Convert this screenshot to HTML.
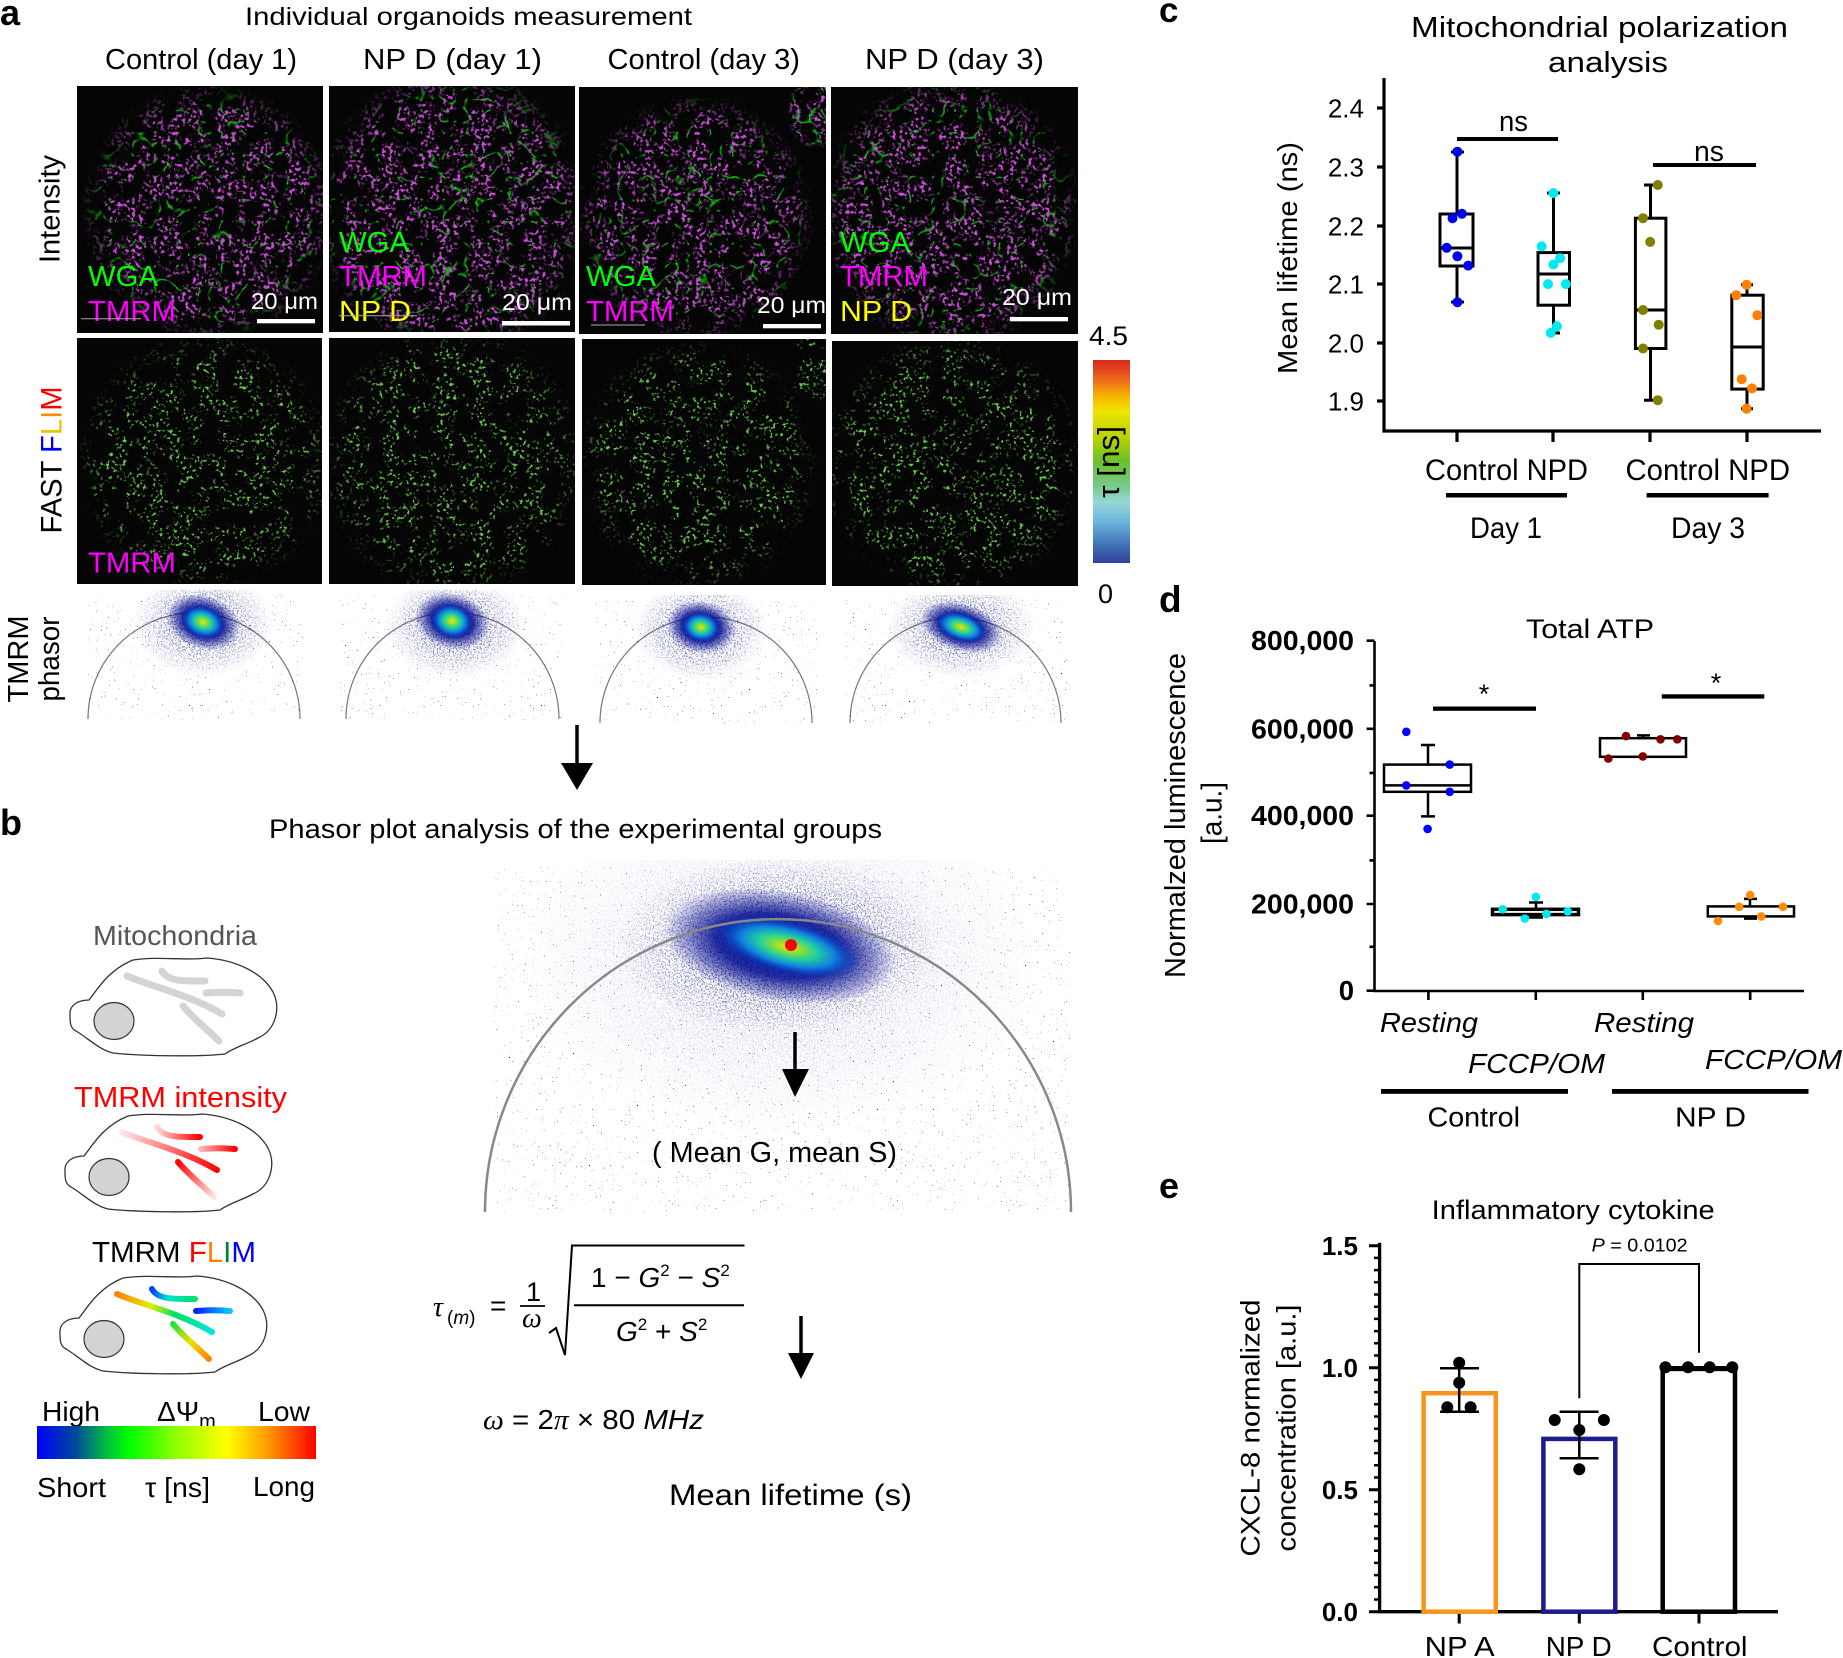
<!DOCTYPE html>
<html><head><meta charset="utf-8">
<style>
html,body{margin:0;padding:0;background:#fff;}
svg{display:block;}
text{font-family:"Liberation Sans",Arial,sans-serif;}
.b{font-weight:bold}
.it{font-style:italic}
.sf{font-family:"Liberation Serif","Times New Roman",serif;font-style:italic}
</style></head><body>
<svg width="1843" height="1658" viewBox="0 0 1843 1658" xmlns="http://www.w3.org/2000/svg">
<defs>
 <filter id="fInt" x="0" y="0" width="1" height="1" color-interpolation-filters="sRGB">
  <feTurbulence type="fractalNoise" baseFrequency="0.055" numOctaves="2" seed="17" result="cm"/>
  <feColorMatrix in="cm" type="matrix" values="0 0 0 0 0  0 0 0 0 0  0 0 0 0 0  8 0 0 0 -3.4" result="cmask"/>
  <feTurbulence type="fractalNoise" baseFrequency="0.28" numOctaves="2" seed="3" result="n1"/>
  <feColorMatrix in="n1" type="matrix" values="0 0 0 0 0.8  0 0 0 0 0.3  0 0 0 0 0.85  7 0 0 0 -3.65" result="mag0"/>
  <feComposite in="mag0" in2="cmask" operator="in" result="mag"/>
  <feTurbulence type="turbulence" baseFrequency="0.045" numOctaves="2" seed="11" result="n2"/>
  <feColorMatrix in="n2" type="matrix" values="0 0 0 0 0.1  0 0 0 0 0.75  0 0 0 0 0.1  -13 0 0 0 1.1" result="grn"/>
  <feMerge><feMergeNode in="grn"/><feMergeNode in="mag"/></feMerge>
 </filter>
 <filter id="fFl" x="0" y="0" width="1" height="1" color-interpolation-filters="sRGB">
  <feTurbulence type="fractalNoise" baseFrequency="0.055" numOctaves="2" seed="17" result="cm"/>
  <feColorMatrix in="cm" type="matrix" values="0 0 0 0 0  0 0 0 0 0  0 0 0 0 0  8 0 0 0 -3.4" result="cmask"/>
  <feTurbulence type="fractalNoise" baseFrequency="0.3" numOctaves="2" seed="7" result="n1"/>
  <feColorMatrix in="n1" type="matrix" values="0 0 0 0 0.4  0 0 0 0 0.8  0 0 0 0 0.3  9 0 0 0 -5.2" result="g0"/>
  <feComposite in="g0" in2="cmask" operator="in"/>
 </filter>
 <filter id="fSpS" x="0" y="0" width="1" height="1" color-interpolation-filters="sRGB">
  <feTurbulence type="fractalNoise" baseFrequency="0.75" numOctaves="1" seed="21"/>
  <feColorMatrix type="matrix" values="0 0 0 0 0.05  0 0 0 0 0.05  0 0 0 0 0.5  30 0 0 0 -21.9"/>
 </filter>
 <filter id="fSpD" x="0" y="0" width="1" height="1" color-interpolation-filters="sRGB">
  <feTurbulence type="fractalNoise" baseFrequency="0.75" numOctaves="1" seed="4"/>
  <feColorMatrix type="matrix" values="0 0 0 0 0.02  0 0 0 0 0.04  0 0 0 0 0.5  12 0 0 0 -6.3"/>
 </filter>
 <radialGradient id="soft"><stop offset="0" stop-color="#fff"/><stop offset="0.78" stop-color="#fff"/><stop offset="1" stop-color="#000"/></radialGradient>
 <radialGradient id="fade"><stop offset="0" stop-color="#fff"/><stop offset="0.45" stop-color="#999"/><stop offset="1" stop-color="#000"/></radialGradient>
 <radialGradient id="fadeL"><stop offset="0" stop-color="#555"/><stop offset="0.5" stop-color="#2a2a2a"/><stop offset="1" stop-color="#000"/></radialGradient>
 <radialGradient id="halo"><stop offset="0" stop-color="#0018a8"/><stop offset="0.55" stop-color="#000c90" stop-opacity="0.85"/><stop offset="1" stop-color="#000080" stop-opacity="0"/></radialGradient>
 <radialGradient id="core"><stop offset="0" stop-color="#f0e020"/><stop offset="0.18" stop-color="#90e030"/><stop offset="0.4" stop-color="#20d0a0"/><stop offset="0.65" stop-color="#1080e0"/><stop offset="1" stop-color="#0030c0" stop-opacity="0"/></radialGradient>
 <linearGradient id="cbar" x1="0" y1="0" x2="0" y2="1">
  <stop offset="0" stop-color="#d8281c"/><stop offset="0.1" stop-color="#ee6a1e"/><stop offset="0.18" stop-color="#f7b500"/><stop offset="0.25" stop-color="#f0e400"/><stop offset="0.38" stop-color="#b8d400"/><stop offset="0.5" stop-color="#6abf2a"/><stop offset="0.62" stop-color="#78c98a"/><stop offset="0.7" stop-color="#95d8d8"/><stop offset="0.8" stop-color="#6ab4dc"/><stop offset="0.92" stop-color="#3c6cb4"/><stop offset="1" stop-color="#34409c"/>
 </linearGradient>
 <linearGradient id="dpsi" x1="0" y1="0" x2="1" y2="0">
  <stop offset="0" stop-color="#0000ff"/><stop offset="0.14" stop-color="#004a9a"/><stop offset="0.25" stop-color="#00c040"/><stop offset="0.33" stop-color="#00ff00"/><stop offset="0.5" stop-color="#90ff00"/><stop offset="0.68" stop-color="#ffff00"/><stop offset="0.82" stop-color="#ffa000"/><stop offset="1" stop-color="#ff0000"/>
 </linearGradient>
 <linearGradient id="r2a" gradientUnits="userSpaceOnUse" x1="122" y1="1132" x2="217" y2="1170"><stop offset="0" stop-color="#ff0000" stop-opacity="0.1"/><stop offset="1" stop-color="#ff0000"/></linearGradient>
 <linearGradient id="r2b" gradientUnits="userSpaceOnUse" x1="157" y1="1130" x2="200" y2="1137"><stop offset="0" stop-color="#ff0000" stop-opacity="0.15"/><stop offset="1" stop-color="#ff0000"/></linearGradient>
 <linearGradient id="r2c" gradientUnits="userSpaceOnUse" x1="201" y1="1149" x2="235" y2="1149"><stop offset="0" stop-color="#ff0000" stop-opacity="0.3"/><stop offset="1" stop-color="#ff0000"/></linearGradient>
 <linearGradient id="r2d" gradientUnits="userSpaceOnUse" x1="178" y1="1162" x2="214" y2="1197"><stop offset="0" stop-color="#ff0000"/><stop offset="1" stop-color="#ff0000" stop-opacity="0.1"/></linearGradient>
 <linearGradient id="r3a" gradientUnits="userSpaceOnUse" x1="117" y1="1294" x2="212" y2="1332"><stop offset="0" stop-color="#ff8000"/><stop offset="0.35" stop-color="#e0f000"/><stop offset="0.6" stop-color="#00e060"/><stop offset="1" stop-color="#00e8e0"/></linearGradient>
 <linearGradient id="r3b" gradientUnits="userSpaceOnUse" x1="152" y1="1289" x2="195" y2="1299"><stop offset="0" stop-color="#0040ff"/><stop offset="0.4" stop-color="#00e0d0"/><stop offset="1" stop-color="#00e070"/></linearGradient>
 <linearGradient id="r3c" gradientUnits="userSpaceOnUse" x1="196" y1="1311" x2="230" y2="1311"><stop offset="0" stop-color="#0020ff"/><stop offset="1" stop-color="#00c8ff"/></linearGradient>
 <linearGradient id="r3d" gradientUnits="userSpaceOnUse" x1="173" y1="1324" x2="209" y2="1359"><stop offset="0" stop-color="#20e040"/><stop offset="0.5" stop-color="#f0e000"/><stop offset="1" stop-color="#ff8000"/></linearGradient>
 <g id="cell">
  <path d="M70 1015 C69 1004 80 1000 89 1000 C97 990 108 970 133 960 C160 956 185 961 207 958 C235 960 262 972 273 992 C281 1008 276 1030 258 1038 C245 1045 235 1047 225 1054 C200 1057 140 1056 113 1053 C98 1049 88 1038 76 1031 C70 1028 70 1022 70 1015 Z" fill="#fff" stroke="#333" stroke-width="1.3"/>
  <ellipse cx="114" cy="1021" rx="20" ry="18.5" fill="#d3d3d3" stroke="#333" stroke-width="1.2"/>
 </g>
 <mask id="mI1" maskUnits="userSpaceOnUse" x="0" y="0" width="1843" height="1658"><ellipse cx="208" cy="212" rx="128" ry="130" fill="url(#soft)"/></mask>
 <mask id="mI2" maskUnits="userSpaceOnUse" x="0" y="0" width="1843" height="1658"><ellipse cx="452" cy="212" rx="140" ry="145" fill="url(#soft)"/></mask>
 <mask id="mI3" maskUnits="userSpaceOnUse" x="0" y="0" width="1843" height="1658"><ellipse cx="695" cy="218" rx="120" ry="124" fill="url(#soft)"/><ellipse cx="815" cy="112" rx="28" ry="38" fill="url(#soft)"/></mask>
 <mask id="mI4" maskUnits="userSpaceOnUse" x="0" y="0" width="1843" height="1658"><ellipse cx="950" cy="212" rx="132" ry="138" fill="url(#soft)"/></mask>
 <mask id="mF1" maskUnits="userSpaceOnUse" x="0" y="0" width="1843" height="1658"><ellipse cx="205" cy="462" rx="128" ry="130" fill="url(#soft)"/></mask>
 <mask id="mF2" maskUnits="userSpaceOnUse" x="0" y="0" width="1843" height="1658"><ellipse cx="452" cy="462" rx="132" ry="136" fill="url(#soft)"/></mask>
 <mask id="mF3" maskUnits="userSpaceOnUse" x="0" y="0" width="1843" height="1658"><ellipse cx="698" cy="465" rx="120" ry="126" fill="url(#soft)"/><ellipse cx="815" cy="365" rx="28" ry="38" fill="url(#soft)"/></mask>
 <mask id="mF4" maskUnits="userSpaceOnUse" x="0" y="0" width="1843" height="1658"><ellipse cx="952" cy="465" rx="132" ry="132" fill="url(#soft)"/></mask>
 <mask id="mP1" maskUnits="userSpaceOnUse" x="0" y="0" width="1843" height="1658"><ellipse cx="203" cy="624" rx="70" ry="52" fill="url(#fade)"/></mask>
 <mask id="mP2" maskUnits="userSpaceOnUse" x="0" y="0" width="1843" height="1658"><ellipse cx="455" cy="626" rx="70" ry="52" fill="url(#fade)"/></mask>
 <mask id="mP3" maskUnits="userSpaceOnUse" x="0" y="0" width="1843" height="1658"><ellipse cx="701" cy="630" rx="66" ry="50" fill="url(#fade)"/></mask>
 <mask id="mP4" maskUnits="userSpaceOnUse" x="0" y="0" width="1843" height="1658"><ellipse cx="961" cy="628" rx="74" ry="50" fill="url(#fade)"/></mask>
 <mask id="mB1" maskUnits="userSpaceOnUse" x="0" y="0" width="1843" height="1658"><ellipse cx="778" cy="946" rx="160" ry="88" fill="url(#fade)"/></mask>
 <mask id="mB2" maskUnits="userSpaceOnUse" x="0" y="0" width="1843" height="1658"><ellipse cx="780" cy="960" rx="260" ry="170" fill="url(#fadeL)"/></mask>
</defs>
<rect width="1843" height="1658" fill="#fff"/>

<!-- ============ PANEL A ============ -->
<text x="0" y="25" class="b" font-size="36">a</text>
<text x="245" y="25" font-size="25" textLength="447" lengthAdjust="spacingAndGlyphs">Individual organoids measurement</text>
<text x="105" y="69" font-size="29" textLength="192" lengthAdjust="spacingAndGlyphs">Control (day 1)</text>
<text x="363" y="69" font-size="29" textLength="179" lengthAdjust="spacingAndGlyphs">NP D (day 1)</text>
<text x="607.5" y="69" font-size="29" textLength="192.5" lengthAdjust="spacingAndGlyphs">Control (day 3)</text>
<text x="865" y="69" font-size="29" textLength="179" lengthAdjust="spacingAndGlyphs">NP D (day 3)</text>

<text transform="translate(59.5,209) rotate(-90)" text-anchor="middle" font-size="29" textLength="108" lengthAdjust="spacingAndGlyphs">Intensity</text>
<text transform="translate(61.5,460) rotate(-90)" text-anchor="middle" font-size="30" textLength="147" lengthAdjust="spacingAndGlyphs">FAST <tspan fill="#0000ff">F</tspan><tspan fill="#e6c800">L</tspan><tspan fill="#ff8c00">I</tspan><tspan fill="#ff0000">M</tspan></text>
<text transform="translate(28,659) rotate(-90)" text-anchor="middle" font-size="29" textLength="87" lengthAdjust="spacingAndGlyphs">TMRM</text>
<text transform="translate(59,659) rotate(-90)" text-anchor="middle" font-size="29" textLength="85" lengthAdjust="spacingAndGlyphs">phasor</text>

<!-- intensity images -->
<rect x="77" y="86" width="246" height="247" fill="#050505"/>
<g mask="url(#mI1)"><rect x="77" y="86" width="246" height="247" fill="#000" filter="url(#fInt)"/></g>
<rect x="329" y="86" width="246" height="246" fill="#050505"/>
<g mask="url(#mI2)"><rect x="329" y="86" width="246" height="246" fill="#000" filter="url(#fInt)"/></g>
<rect x="579" y="87" width="247" height="247" fill="#050505"/>
<g mask="url(#mI3)"><rect x="579" y="87" width="247" height="247" fill="#000" filter="url(#fInt)"/></g>
<rect x="831" y="87" width="247" height="247" fill="#050505"/>
<g mask="url(#mI4)"><rect x="831" y="87" width="247" height="247" fill="#000" filter="url(#fInt)"/></g>

<!-- FLIM images -->
<rect x="77" y="338" width="245" height="246" fill="#050505"/>
<g mask="url(#mF1)"><rect x="77" y="338" width="245" height="246" fill="#000" filter="url(#fFl)"/></g>
<rect x="329" y="338" width="246" height="246" fill="#050505"/>
<g mask="url(#mF2)"><rect x="329" y="338" width="246" height="246" fill="#000" filter="url(#fFl)"/></g>
<rect x="582" y="339" width="244" height="246" fill="#050505"/>
<g mask="url(#mF3)"><rect x="582" y="339" width="244" height="246" fill="#000" filter="url(#fFl)"/></g>
<rect x="832" y="341" width="246" height="245" fill="#050505"/>
<g mask="url(#mF4)"><rect x="832" y="341" width="246" height="245" fill="#000" filter="url(#fFl)"/></g>

<!-- image labels -->
<g font-size="29">
 <text x="88" y="286" fill="#00ff00" textLength="70" lengthAdjust="spacingAndGlyphs">WGA</text>
 <text x="88" y="321" fill="#ff00ff" textLength="88" lengthAdjust="spacingAndGlyphs">TMRM</text>
 <text x="339" y="252" fill="#00ff00" textLength="70" lengthAdjust="spacingAndGlyphs">WGA</text>
 <text x="339" y="286" fill="#ff00ff" textLength="88" lengthAdjust="spacingAndGlyphs">TMRM</text>
 <text x="339" y="321" fill="#ffff00" textLength="72" lengthAdjust="spacingAndGlyphs">NP D</text>
 <text x="586" y="286" fill="#00ff00" textLength="70" lengthAdjust="spacingAndGlyphs">WGA</text>
 <text x="586" y="321" fill="#ff00ff" textLength="88" lengthAdjust="spacingAndGlyphs">TMRM</text>
 <text x="840" y="252" fill="#00ff00" textLength="70" lengthAdjust="spacingAndGlyphs">WGA</text>
 <text x="840" y="286" fill="#ff00ff" textLength="88" lengthAdjust="spacingAndGlyphs">TMRM</text>
 <text x="840" y="321" fill="#ffff00" textLength="72" lengthAdjust="spacingAndGlyphs">NP D</text>
 <text x="88" y="572.5" fill="#ff00ff" textLength="88" lengthAdjust="spacingAndGlyphs">TMRM</text>
</g>
<g stroke="#aaa" stroke-width="1">
 <line x1="81" y1="318.7" x2="141" y2="318.7"/>
 <line x1="339" y1="315.7" x2="417" y2="315.7"/>
 <line x1="591" y1="325" x2="645" y2="325"/>
</g>
<g fill="#fff" font-size="23">
 <text x="251" y="309" textLength="67" lengthAdjust="spacingAndGlyphs">20 μm</text>
 <rect x="257" y="319" width="58" height="4.3"/>
 <text x="502" y="310" textLength="70" lengthAdjust="spacingAndGlyphs">20 μm</text>
 <rect x="502" y="321" width="68" height="4.5"/>
 <text x="757" y="313" textLength="69" lengthAdjust="spacingAndGlyphs">20 μm</text>
 <rect x="763" y="324" width="58" height="4.3"/>
 <text x="1002" y="305" textLength="70" lengthAdjust="spacingAndGlyphs">20 μm</text>
 <rect x="1010" y="317" width="58" height="4.3"/>
</g>

<!-- colorbar -->
<rect x="1093" y="360" width="37" height="203" fill="url(#cbar)"/>
<text x="1089" y="345" font-size="27" textLength="39" lengthAdjust="spacingAndGlyphs">4.5</text>
<text x="1098" y="603" font-size="27">0</text>
<text transform="translate(1119,462) rotate(-90)" text-anchor="middle" font-size="31" textLength="72" lengthAdjust="spacingAndGlyphs">τ [ns]</text>

<!-- small phasors -->
<g fill="none" stroke="#777" stroke-width="1.2">
 <path d="M88 719 A106 106 0 0 1 300 719"/>
 <path d="M346 719 A106.5 106.5 0 0 1 559 719"/>
 <path d="M600 723 A106 106 0 0 1 812 723"/>
 <path d="M850 723 A105.5 105.5 0 0 1 1061 723"/>
</g>
<rect x="88" y="595" width="215" height="125" fill="#000" filter="url(#fSpS)"/>
<rect x="340" y="595" width="222" height="125" fill="#000" filter="url(#fSpS)"/>
<rect x="596" y="598" width="222" height="126" fill="#000" filter="url(#fSpS)"/>
<rect x="846" y="598" width="222" height="126" fill="#000" filter="url(#fSpS)"/>
<g mask="url(#mP1)"><rect x="120" y="590" width="170" height="100" fill="#000" filter="url(#fSpD)"/></g>
<g mask="url(#mP2)"><rect x="370" y="590" width="170" height="100" fill="#000" filter="url(#fSpD)"/></g>
<g mask="url(#mP3)"><rect x="620" y="595" width="165" height="100" fill="#000" filter="url(#fSpD)"/></g>
<g mask="url(#mP4)"><rect x="875" y="595" width="175" height="100" fill="#000" filter="url(#fSpD)"/></g>
<g transform="translate(203,622) rotate(20)"><ellipse rx="38" ry="27" fill="url(#halo)"/><ellipse rx="22" ry="16" fill="url(#core)"/></g>
<g transform="translate(452,621) rotate(15)"><ellipse rx="38" ry="28" fill="url(#halo)"/><ellipse rx="21" ry="17" fill="url(#core)"/></g>
<g transform="translate(701,627) rotate(10)"><ellipse rx="35" ry="26" fill="url(#halo)"/><ellipse rx="19" ry="15" fill="url(#core)"/></g>
<g transform="translate(961,627) rotate(18)"><ellipse rx="42" ry="24" fill="url(#halo)"/><ellipse rx="26" ry="14" fill="url(#core)"/></g>

<!-- arrow a->b -->
<line x1="577" y1="725" x2="577" y2="766" stroke="#000" stroke-width="3.5"/>
<polygon points="561,763 593,763 577,790" fill="#000"/>

<!-- ============ PANEL B ============ -->
<text x="0" y="835" class="b" font-size="36">b</text>
<text x="269" y="838" font-size="27" textLength="613" lengthAdjust="spacingAndGlyphs">Phasor plot analysis of the experimental groups</text>

<text x="93" y="945" font-size="28" fill="#555" textLength="164" lengthAdjust="spacingAndGlyphs">Mitochondria</text>
<use href="#cell"/>
<g fill="none" stroke="#d4d4d4" stroke-width="7" stroke-linecap="round">
 <path d="M127 976 C150 986 190 995 222 1014"/>
 <path d="M162 971 C168 982 185 981 205 981"/>
 <path d="M206 993 C217 992 230 992 240 993"/>
 <path d="M183 1006 C195 1020 208 1030 219 1041"/>
</g>
<text x="74" y="1107" font-size="29" fill="#ff0000" textLength="213" lengthAdjust="spacingAndGlyphs">TMRM intensity</text>
<use href="#cell" transform="translate(-5,156)"/>
<g fill="none" stroke-width="6" stroke-linecap="round">
 <path d="M122 1132 C145 1142 185 1151 217 1170" stroke="url(#r2a)"/>
 <path d="M157 1127 C163 1138 180 1137 200 1137" stroke="url(#r2b)"/>
 <path d="M201 1149 C212 1148 225 1148 235 1149" stroke="url(#r2c)"/>
 <path d="M178 1162 C190 1176 203 1186 214 1197" stroke="url(#r2d)"/>
</g>
<text x="92" y="1262" font-size="29" textLength="164" lengthAdjust="spacingAndGlyphs">TMRM <tspan fill="#ff0000">F</tspan><tspan fill="#ff7f00">L</tspan><tspan fill="#008040">I</tspan><tspan fill="#0000ff">M</tspan></text>
<use href="#cell" transform="translate(-10,318)"/>
<g fill="none" stroke-width="6" stroke-linecap="round">
 <path d="M117 1294 C140 1304 180 1313 212 1332" stroke="url(#r3a)"/>
 <path d="M152 1289 C158 1300 175 1299 195 1299" stroke="url(#r3b)"/>
 <path d="M196 1311 C207 1310 220 1310 230 1311" stroke="url(#r3c)"/>
 <path d="M173 1324 C185 1338 198 1348 209 1359" stroke="url(#r3d)"/>
</g>
<text x="42" y="1421" font-size="28" textLength="58" lengthAdjust="spacingAndGlyphs">High</text>
<text x="157" y="1421" font-size="28" font-family="Liberation Serif, serif">ΔΨ<tspan font-size="20" dy="7" font-family="Liberation Sans, sans-serif">m</tspan></text>
<text x="258" y="1421" font-size="28" textLength="52" lengthAdjust="spacingAndGlyphs">Low</text>
<rect x="37" y="1426" width="279" height="33" fill="url(#dpsi)"/>
<text x="37" y="1497" font-size="28" textLength="69" lengthAdjust="spacingAndGlyphs">Short</text>
<text x="145" y="1497" font-size="28" textLength="65" lengthAdjust="spacingAndGlyphs">τ [ns]</text>
<text x="253" y="1496" font-size="28" textLength="62" lengthAdjust="spacingAndGlyphs">Long</text>

<!-- big phasor -->
<rect x="494" y="867" width="576" height="345" fill="#000" filter="url(#fSpS)"/>
<g mask="url(#mB2)"><rect x="520" y="860" width="520" height="300" fill="#000" filter="url(#fSpD)"/></g>
<g mask="url(#mB1)"><rect x="615" y="860" width="330" height="175" fill="#000" filter="url(#fSpD)"/></g>
<g transform="translate(780,946) rotate(10)"><ellipse rx="118" ry="56" fill="url(#halo)"/></g>
<g transform="translate(788,947) rotate(14)"><ellipse rx="74" ry="27" fill="url(#core)"/></g>
<path d="M485 1212 A293 293 0 0 1 1071 1212" fill="none" stroke="#888" stroke-width="2.5"/>
<circle cx="791" cy="945" r="6" fill="#ff0000"/>
<line x1="795" y1="1032" x2="795" y2="1072" stroke="#000" stroke-width="3.5"/>
<polygon points="782,1069 809,1069 795,1097" fill="#000"/>
<text x="652" y="1162" font-size="29" textLength="245" lengthAdjust="spacingAndGlyphs">( Mean G, mean S)</text>

<!-- formula -->
<text x="433" y="1316" font-size="28" class="sf">τ</text>
<text x="447" y="1324" font-size="19" font-family="Liberation Serif, serif">(<tspan font-style="italic">m</tspan>)</text>
<text x="490" y="1315" font-size="28">=</text>
<text x="526" y="1301" font-size="27">1</text>
<line x1="520" y1="1306" x2="545" y2="1306" stroke="#000" stroke-width="1.8"/>
<text x="522" y="1327" font-size="28" class="sf">ω</text>
<path d="M549 1333 L556 1328 L565 1355 L572 1245.5 L744.5 1245.5" fill="none" stroke="#000" stroke-width="2"/>
<text x="591" y="1287" font-size="28">1 − <tspan font-style="italic">G</tspan><tspan font-size="17" dy="-11">2</tspan><tspan dy="11"> − </tspan><tspan font-style="italic">S</tspan><tspan font-size="17" dy="-11">2</tspan></text>
<line x1="574" y1="1305.3" x2="744" y2="1305.3" stroke="#000" stroke-width="2"/>
<text x="616" y="1341" font-size="28"><tspan font-style="italic">G</tspan><tspan font-size="17" dy="-11">2</tspan><tspan dy="11"> + </tspan><tspan font-style="italic">S</tspan><tspan font-size="17" dy="-11">2</tspan></text>
<line x1="801" y1="1316" x2="801" y2="1356" stroke="#000" stroke-width="3.5"/>
<polygon points="788,1353 814,1353 801,1379" fill="#000"/>
<text x="483" y="1429" font-size="28" textLength="221" lengthAdjust="spacingAndGlyphs"><tspan class="sf">ω</tspan> = 2<tspan class="sf">π</tspan> × 80 <tspan font-style="italic">MHz</tspan></text>
<text x="669" y="1505" font-size="30" textLength="243" lengthAdjust="spacingAndGlyphs">Mean lifetime (s)</text>

<!-- ============ PANEL C ============ -->
<text x="1159" y="22" class="b" font-size="35">c</text>
<text x="1411" y="37" font-size="29" textLength="377" lengthAdjust="spacingAndGlyphs">Mitochondrial polarization</text>
<text x="1548" y="72" font-size="29" textLength="120" lengthAdjust="spacingAndGlyphs">analysis</text>
<text transform="translate(1297,258) rotate(-90)" text-anchor="middle" font-size="28" textLength="232" lengthAdjust="spacingAndGlyphs">Mean lifetime (ns)</text>
<g stroke="#000" stroke-width="3.2" fill="none">
 <path d="M1384 78 V431 H1821"/>
 <path d="M1377 108 H1384 M1377 167 H1384 M1377 226 H1384 M1377 284 H1384 M1377 343 H1384 M1377 401 H1384"/>
 <path d="M1457 431 V442 M1553 431 V442 M1650 431 V442 M1747 431 V442"/>
</g>
<g font-size="26" text-anchor="end">
 <text x="1364" y="117.5">2.4</text>
 <text x="1364" y="176.5">2.3</text>
 <text x="1364" y="235.5">2.2</text>
 <text x="1364" y="293.5">2.1</text>
 <text x="1364" y="352.5">2.0</text>
 <text x="1364" y="410.5">1.9</text>
</g>
<g stroke="#000" stroke-width="3" fill="none">
 <rect x="1440" y="214" width="33" height="52"/><line x1="1440" y1="248" x2="1473" y2="248"/>
 <path d="M1457 214 V152 M1457 266 V302 M1451 152 H1464 M1451 302 H1464"/>
 <rect x="1538" y="252.6" width="31.5" height="52.6"/><line x1="1538" y1="274" x2="1569.5" y2="274"/>
 <path d="M1553.5 252.6 V193 M1553.5 305.2 V333 M1547 193 H1560 M1547 333 H1560"/>
 <rect x="1635.4" y="218.2" width="30.5" height="130.3"/><line x1="1635.4" y1="310" x2="1665.9" y2="310"/>
 <path d="M1650.5 218.2 V185 M1650.5 348.5 V400.2 M1644 185 H1657 M1644 400.2 H1657"/>
 <rect x="1731.8" y="295.2" width="31.4" height="93.9"/><line x1="1731.8" y1="347" x2="1763.2" y2="347"/>
 <path d="M1747 295.2 V284.8 M1747 389.1 V408.7 M1741 284.8 H1753 M1741 408.7 H1753"/>
</g>
<g fill="#0000ee">
 <circle cx="1457.4" cy="151.7" r="5"/><circle cx="1452.5" cy="218.2" r="5"/><circle cx="1461.9" cy="213.8" r="5"/><circle cx="1446.7" cy="247.8" r="5"/><circle cx="1457.4" cy="256.3" r="5"/><circle cx="1468.2" cy="265.6" r="5"/><circle cx="1457.4" cy="302.2" r="5"/>
</g>
<g fill="#00e8f0">
 <circle cx="1553.4" cy="193.1" r="5"/><circle cx="1541.7" cy="246.4" r="5"/><circle cx="1560.1" cy="258.2" r="5"/><circle cx="1553.4" cy="264.5" r="5"/><circle cx="1548" cy="284.1" r="5"/><circle cx="1565.9" cy="284.1" r="5"/><circle cx="1556.9" cy="326.3" r="5"/><circle cx="1550.7" cy="332.9" r="5"/>
</g>
<g fill="#808000">
 <circle cx="1657.8" cy="185" r="5"/><circle cx="1643" cy="218.2" r="5"/><circle cx="1650.2" cy="241.9" r="5"/><circle cx="1643" cy="310" r="5"/><circle cx="1658.7" cy="324.8" r="5"/><circle cx="1643" cy="348.5" r="5"/><circle cx="1657.8" cy="400.2" r="5"/>
</g>
<g fill="#ff8000">
 <circle cx="1746.6" cy="284.8" r="5"/><circle cx="1736.3" cy="295.2" r="5"/><circle cx="1757.3" cy="315.2" r="5"/><circle cx="1741.7" cy="379.2" r="5"/><circle cx="1752" cy="388.4" r="5"/><circle cx="1746.6" cy="408.7" r="5"/>
</g>
<text x="1499" y="131" font-size="29" textLength="29" lengthAdjust="spacingAndGlyphs">ns</text>
<text x="1694" y="161" font-size="29" textLength="30" lengthAdjust="spacingAndGlyphs">ns</text>
<rect x="1457" y="137" width="101" height="4" fill="#000"/>
<rect x="1653" y="163" width="103" height="4" fill="#000"/>
<text x="1425" y="480" font-size="29.5" textLength="163" lengthAdjust="spacingAndGlyphs">Control NPD</text>
<text x="1625.5" y="480" font-size="29.5" textLength="164.5" lengthAdjust="spacingAndGlyphs">Control NPD</text>
<rect x="1446" y="493" width="121" height="4.5" fill="#000"/>
<rect x="1646.6" y="493" width="122" height="4.5" fill="#000"/>
<text x="1470" y="538" font-size="29.5" textLength="72" lengthAdjust="spacingAndGlyphs">Day 1</text>
<text x="1671" y="538" font-size="29.5" textLength="74" lengthAdjust="spacingAndGlyphs">Day 3</text>

<!-- ============ PANEL D ============ -->
<text x="1159" y="612" class="b" font-size="37">d</text>
<text x="1526" y="638" font-size="27" textLength="128" lengthAdjust="spacingAndGlyphs">Total ATP</text>
<text transform="translate(1185,815.5) rotate(-90)" text-anchor="middle" font-size="29" textLength="325" lengthAdjust="spacingAndGlyphs">Normalzed luminescence</text>
<text transform="translate(1221.5,813) rotate(-90)" text-anchor="middle" font-size="29" textLength="62" lengthAdjust="spacingAndGlyphs">[a.u.]</text>
<g stroke="#000" stroke-width="2.6" fill="none">
 <path d="M1374.5 641 V991 H1804"/>
 <path d="M1366.6 640.7 H1374.5 M1366.6 728.8 H1374.5 M1366.6 815.7 H1374.5 M1366.6 904 H1374.5 M1366.6 990.7 H1374.5"/>
 <path d="M1369.5 685.4 H1374.5 M1369.5 772.9 H1374.5 M1369.5 860.4 H1374.5 M1369.5 946.8 H1374.5"/>
 <path d="M1428.4 991 V1000 M1535.8 991 V1000 M1642.8 991 V1000 M1750.2 991 V1000"/>
</g>
<g class="b" font-size="27.5" text-anchor="end">
 <text x="1354" y="650" textLength="103" lengthAdjust="spacingAndGlyphs">800,000</text>
 <text x="1354" y="738.3" textLength="103" lengthAdjust="spacingAndGlyphs">600,000</text>
 <text x="1354" y="825" textLength="103" lengthAdjust="spacingAndGlyphs">400,000</text>
 <text x="1354" y="913.3" textLength="103" lengthAdjust="spacingAndGlyphs">200,000</text>
 <text x="1354" y="1000">0</text>
</g>
<g stroke="#000" stroke-width="2.5" fill="none">
 <rect x="1384" y="764.6" width="87" height="27.2"/><line x1="1384" y1="785.4" x2="1471" y2="785.4"/>
 <path d="M1428 764.6 V745 M1428 791.8 V816.4 M1421 745 H1435 M1421 816.4 H1435"/>
 <rect x="1492.5" y="909.3" width="86" height="5.3" stroke-width="3.5"/>
 <path d="M1536 909.3 V902.5 M1536 914.6 V917.5 M1529 902.5 H1543 M1529 917.5 H1543"/>
 <rect x="1600" y="738.2" width="86" height="18.6"/>
 <path d="M1643 738.2 V735.4 M1637 735.4 H1650"/>
 <rect x="1707.8" y="906.4" width="86.2" height="10"/>
 <path d="M1750 906.4 V898.9 M1750 916.4 V918.6 M1744 898.9 H1757 M1744 918.6 H1757"/>
</g>
<g fill="#0000ff"><circle cx="1406.3" cy="731.8" r="4.3"/><circle cx="1449.7" cy="764.6" r="4.3"/><circle cx="1406.3" cy="785.4" r="4.3"/><circle cx="1449.7" cy="791.8" r="4.3"/><circle cx="1427.6" cy="828.9" r="4.3"/></g>
<g fill="#00e8f0"><circle cx="1535.8" cy="896.8" r="4.3"/><circle cx="1502.7" cy="909.3" r="4.3"/><circle cx="1524.8" cy="918.6" r="4.3"/><circle cx="1546.4" cy="913.9" r="4.3"/><circle cx="1567.7" cy="911.4" r="4.3"/></g>
<g fill="#800000"><circle cx="1608.3" cy="758.6" r="4.3"/><circle cx="1626" cy="736.1" r="4.3"/><circle cx="1642.8" cy="756.4" r="4.3"/><circle cx="1660.5" cy="739.3" r="4.3"/><circle cx="1677.3" cy="739.3" r="4.3"/></g>
<g fill="#ff8c00"><circle cx="1718" cy="921" r="4.3"/><circle cx="1739.2" cy="906.8" r="4.3"/><circle cx="1750.2" cy="895" r="4.3"/><circle cx="1761.2" cy="916.4" r="4.3"/><circle cx="1783" cy="906.8" r="4.3"/></g>
<text x="1484" y="703" font-size="27" text-anchor="middle">*</text>
<text x="1716" y="692" font-size="27" text-anchor="middle">*</text>
<rect x="1433" y="706.5" width="103" height="4.3" fill="#000"/>
<rect x="1661.8" y="694.3" width="102.5" height="4.3" fill="#000"/>
<g class="it" font-size="27.5">
 <text x="1380" y="1032" textLength="98" lengthAdjust="spacingAndGlyphs">Resting</text>
 <text x="1594" y="1032" textLength="100" lengthAdjust="spacingAndGlyphs">Resting</text>
 <text x="1468" y="1073" textLength="137" lengthAdjust="spacingAndGlyphs">FCCP/OM</text>
 <text x="1705" y="1069" textLength="137" lengthAdjust="spacingAndGlyphs">FCCP/OM</text>
</g>
<rect x="1381" y="1089" width="187" height="4.8" fill="#000"/>
<rect x="1612" y="1089" width="196.5" height="4.8" fill="#000"/>
<text x="1427.5" y="1126.4" font-size="27.5" textLength="92.5" lengthAdjust="spacingAndGlyphs">Control</text>
<text x="1675" y="1126.4" font-size="27.5" textLength="71" lengthAdjust="spacingAndGlyphs">NP D</text>

<!-- ============ PANEL E ============ -->
<text x="1159" y="1198" class="b" font-size="36">e</text>
<text x="1431.7" y="1219" font-size="27" textLength="283" lengthAdjust="spacingAndGlyphs">Inflammatory cytokine</text>
<text transform="translate(1259.5,1428) rotate(-90)" text-anchor="middle" font-size="27" textLength="257" lengthAdjust="spacingAndGlyphs">CXCL-8 normalized</text>
<text transform="translate(1295.5,1428) rotate(-90)" text-anchor="middle" font-size="27" textLength="247" lengthAdjust="spacingAndGlyphs">concentration [a.u.]</text>
<g stroke="#000" fill="none">
 <path d="M1379.6 1242.7 V1611.7 H1778" stroke-width="3.3"/>
 <path d="M1369 1245.7 H1380 M1369 1367.7 H1380 M1369 1489.7 H1380 M1369 1611.7 H1380" stroke-width="3"/>
 <path d="M1374 1257.9 H1380 M1374 1270.1 H1380 M1374 1282.3 H1380 M1374 1294.5 H1380 M1374 1306.7 H1380 M1374 1318.9 H1380 M1374 1331.1 H1380 M1374 1343.3 H1380 M1374 1355.5 H1380 M1374 1379.9 H1380 M1374 1392.1 H1380 M1374 1404.3 H1380 M1374 1416.5 H1380 M1374 1428.7 H1380 M1374 1440.9 H1380 M1374 1453.1 H1380 M1374 1465.3 H1380 M1374 1477.5 H1380 M1374 1501.9 H1380 M1374 1514.1 H1380 M1374 1526.3 H1380 M1374 1538.5 H1380 M1374 1550.7 H1380 M1374 1562.9 H1380 M1374 1575.1 H1380 M1374 1587.3 H1380 M1374 1599.5 H1380" stroke-width="2.5"/>
 <path d="M1459.2 1611.7 V1623.5 M1579.3 1611.7 V1623.5 M1699 1611.7 V1623.5" stroke-width="3"/>
</g>
<g class="b" font-size="26" text-anchor="end">
 <text x="1358" y="1255">1.5</text>
 <text x="1358" y="1377">1.0</text>
 <text x="1358" y="1499">0.5</text>
 <text x="1358" y="1621">0.0</text>
</g>
<rect x="1423.6" y="1393.2" width="72.2" height="218.5" fill="#fff" stroke="#f7941d" stroke-width="4.5"/>
<rect x="1543.4" y="1438.9" width="71.9" height="172.8" fill="#fff" stroke="#1c1c8c" stroke-width="4.5"/>
<rect x="1662.7" y="1368.9" width="72.3" height="242.8" fill="#fff" stroke="#000" stroke-width="4.5"/>
<g stroke="#000" stroke-width="2.5" fill="none">
 <path d="M1459.2 1368.3 V1411.7 M1440 1368.3 H1479 M1440 1411.7 H1479"/>
 <path d="M1579.3 1411.7 V1458.3 M1559.6 1411.7 H1598.6 M1559.6 1458.3 H1598.6"/>
 <path d="M1579.3 1398.3 V1264 H1699 V1352.7" stroke-width="2"/>
 <path d="M1665 1367.3 H1733" stroke-width="2.5"/>
</g>
<g fill="#000">
 <circle cx="1459.2" cy="1362.7" r="6"/><circle cx="1459.2" cy="1382.7" r="6"/><circle cx="1447.3" cy="1407.3" r="6"/><circle cx="1470.6" cy="1407.3" r="6"/>
 <circle cx="1554.7" cy="1420" r="6"/><circle cx="1603.9" cy="1420" r="6"/><circle cx="1579.3" cy="1430" r="6"/><circle cx="1579.3" cy="1469.3" r="6"/>
 <circle cx="1665.4" cy="1367.3" r="6"/><circle cx="1688" cy="1367.3" r="6"/><circle cx="1709.7" cy="1367.3" r="6"/><circle cx="1732.3" cy="1367.3" r="6"/>
</g>
<text x="1591.6" y="1251.7" font-size="18.5" textLength="96" lengthAdjust="spacingAndGlyphs"><tspan font-style="italic">P</tspan> = 0.0102</text>
<text x="1424.7" y="1656" font-size="28" textLength="70" lengthAdjust="spacingAndGlyphs">NP A</text>
<text x="1545.7" y="1656" font-size="28" textLength="66" lengthAdjust="spacingAndGlyphs">NP D</text>
<text x="1652" y="1656" font-size="28" textLength="95.5" lengthAdjust="spacingAndGlyphs">Control</text>
</svg>
</body></html>
